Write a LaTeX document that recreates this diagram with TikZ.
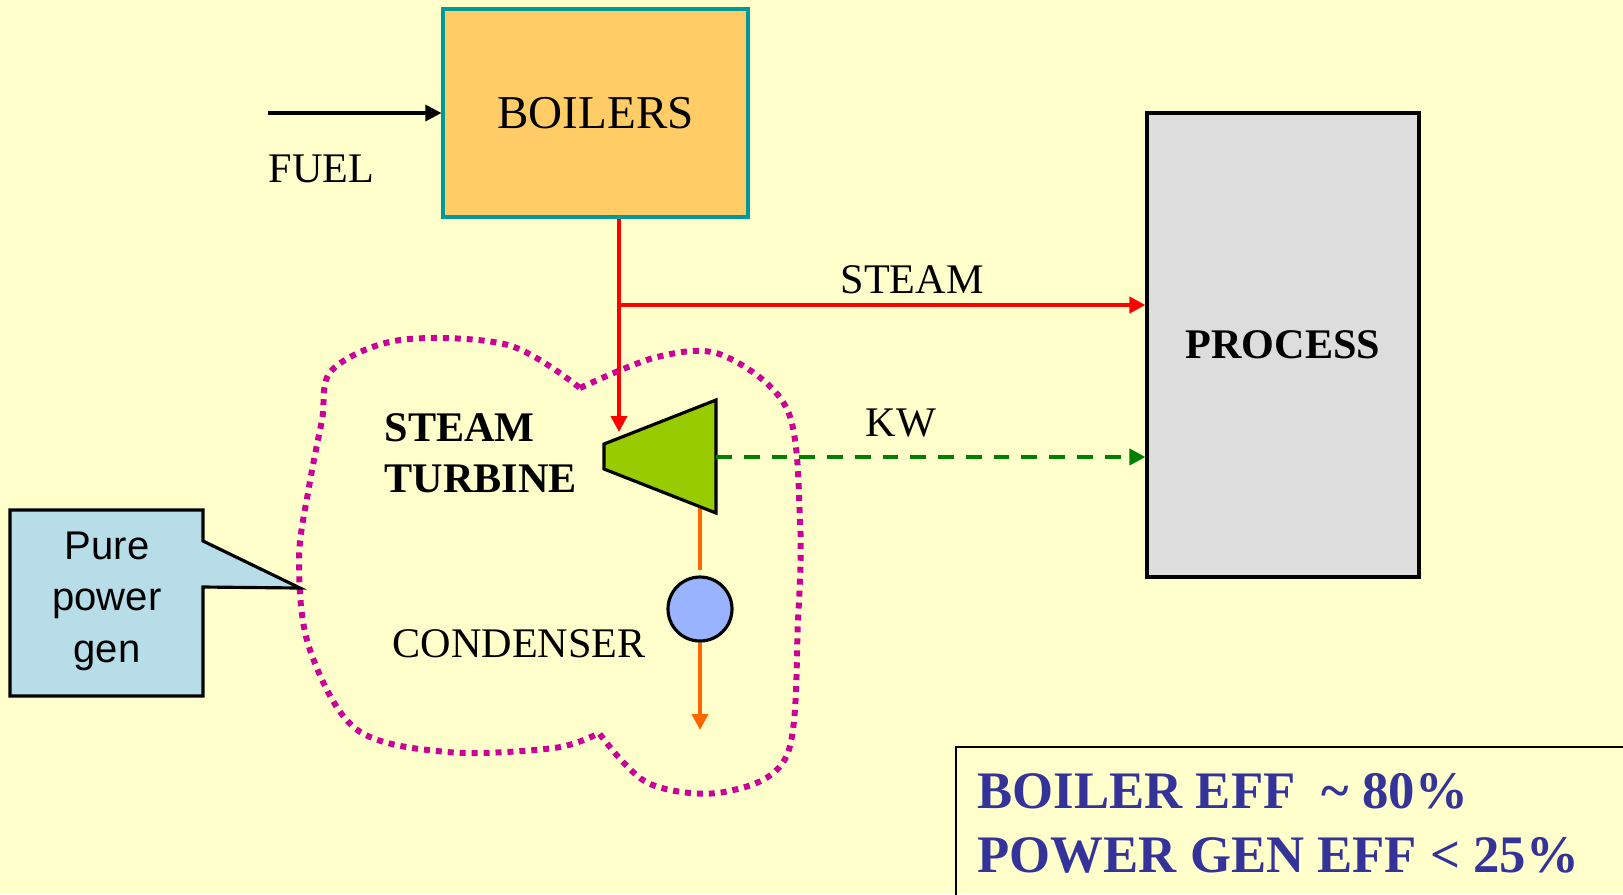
\documentclass[tikz,border=0pt]{standalone}
\usepackage{fontspec}
\setmainfont{Liberation Serif}
\newfontfamily\calloutfont{Liberation Sans}
\usetikzlibrary{arrows.meta}
\definecolor{bgyellow}{HTML}{FFFFCC}
\definecolor{boilerfill}{HTML}{FFCC66}
\definecolor{boilerline}{HTML}{009999}
\definecolor{processfill}{HTML}{DDDDDD}
\definecolor{turbinefill}{HTML}{99CC00}
\definecolor{condfill}{HTML}{99B3FF}
\definecolor{calloutfill}{HTML}{B7DEE8}
\definecolor{kwgreen}{HTML}{008000}
\definecolor{condorange}{HTML}{FF6600}
\definecolor{cloudpink}{HTML}{CC0099}
\definecolor{effblue}{HTML}{333399}
\begin{document}
\begin{tikzpicture}[
  lbl/.style={inner sep=0pt, anchor=base west, font=\fontsize{12}{14.5}\selectfont},
  tip/.style={-{Triangle[length=0.16cm,width=0.16cm]}, line width=1.1pt},
  cloud/.style={cloudpink, line width=1.7pt, dash pattern=on 1.7pt off 1.7pt}
]
\clip (0,0) rectangle (16.23,-8.94);
\fill[bgyellow] (0,0) rectangle (16.23,-8.94);

\node[draw=boilerline, line width=0.9pt, fill=boilerfill, minimum width=3.05cm, minimum height=2.08cm, font=\fontsize{13.4}{16}\selectfont] (boiler) at (5.955,-1.13) {BOILERS};
\node[draw, line width=0.9pt, fill=processfill, minimum width=2.72cm, minimum height=4.64cm, font=\bfseries\fontsize{12}{14.5}\selectfont] (process) at (12.83,-3.45) {PROCESS};

% fuel in
\coordinate (fuelin) at (2.68,-1.13);
\draw[tip, line width=0.9pt] (fuelin) -- (boiler.west);
\node[lbl] (fuel) at (2.68,-1.82) {FUEL};

% steam
\coordinate (split) at (6.19,-3.05);
\coordinate (turbin) at (6.19,-4.32);
\draw[red, line width=1.1pt] (boiler.south -| split) -- (split);
\draw[tip, red] (split) -- (turbin);
\draw[tip, red] (split) -- (split -| process.west);
\node[lbl] (steamlbl) at (8.40,-2.93) {STEAM};

% turbine
\coordinate (tinA) at (6.04,-4.44);
\coordinate (tinB) at (6.04,-4.69);
\coordinate (toutA) at (7.16,-4.00);
\coordinate (toutB) at (7.16,-5.13);
\coordinate (shaft) at (7.16,-4.57);
\coordinate (turbout) at (7.00,-5.07);
\draw[condorange, line width=1.1pt] (turbout) -- (7.00,-5.70);
\filldraw[fill=turbinefill, line width=0.9pt] (tinA) -- (toutA) -- (toutB) -- (tinB) -- cycle;
\draw[tip, kwgreen, dash pattern=on 4.5pt off 3.4pt] (shaft) -- (shaft -| process.west);
\node[lbl] (kwlbl) at (8.65,-4.36) {KW};
\node[inner sep=0pt, anchor=west, align=left, font=\bfseries\fontsize{12}{14.5}\selectfont] (turblbl) at (3.84,-4.535) {STEAM\\TURBINE};

% condenser
\node[circle, draw, fill=condfill, line width=0.9pt, minimum size=0.64cm, inner sep=0pt] (cond) at (7.00,-6.09) {};
\coordinate (drain) at (7.00,-7.30);
\draw[tip, condorange] (cond.south) -- (drain);
\node[lbl] (condlbl) at (3.92,-6.57) {CONDENSER};

% pure power boundary
\draw[cloud] plot[smooth, tension=0.55] coordinates {(5.80,-3.88) (6.57,-3.57) (7.22,-3.55) (7.87,-4.09) (8.00,-5.20) (7.98,-6.20) (7.87,-7.55) (7.24,-7.92) (6.48,-7.83) (5.99,-7.33)}
  -- plot[smooth, tension=0.55] coordinates {(5.99,-7.33) (5.54,-7.48) (4.47,-7.52) (3.56,-7.29) (3.09,-6.47) (2.99,-5.60) (3.09,-4.87) (3.22,-4.20) (3.32,-3.70) (4.00,-3.40) (5.08,-3.45) (5.80,-3.88)} -- cycle;

% callout
\filldraw[fill=calloutfill, line width=0.9pt] (0.10,-5.10) -- (2.03,-5.10) -- (2.03,-5.41) -- (3.00,-5.88) -- (2.03,-5.87) -- (2.03,-6.96) -- (0.10,-6.96) -- cycle;
\node[align=center, inner sep=0pt, font=\calloutfont\fontsize{11.4}{14.65}\selectfont] (gen) at (1.07,-6.01) {Pure\\power\\gen};

% efficiencies
\draw[line width=0.8pt] (9.56,-9.5) -- (9.56,-7.47) -- (16.5,-7.47);
\node[lbl, text=effblue, font=\bfseries\fontsize{15}{18}\selectfont] (effboiler) at (9.77,-8.08) {BOILER EFF\ \ \textasciitilde\ 80\%};
\node[lbl, text=effblue, font=\bfseries\fontsize{15}{18}\selectfont] (effpower) at (9.77,-8.72) {POWER GEN EFF \textless\ 25\%};
\end{tikzpicture}
\end{document}
